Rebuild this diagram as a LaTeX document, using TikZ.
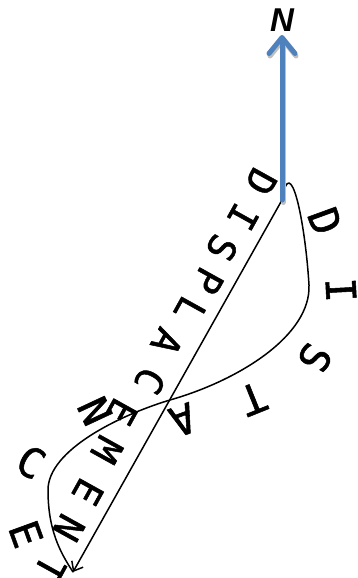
\documentclass[tikz,border=0pt]{standalone}
\usepackage{fontspec}
\newfontfamily\fontlettere[FakeBold=1.3]{DejaVu Sans Mono}
\newfontfamily\fontnord{Liberation Sans}
\usetikzlibrary{arrows.meta}
\definecolor{bluNord}{RGB}{79,129,189}

\begin{document}
\begin{tikzpicture}[x=1pt, y=-1pt, line cap=round, line join=round]

    % Stili delle lettere e dei vettori
    \tikzset{
        lettera/.style={font=\fontlettere\fontsize{38}{38}\selectfont, inner sep=0pt},
        letteraG/.style={font=\fontlettere\fontsize{41}{41}\selectfont, inner sep=0pt},
        vettore/.style={draw=black, line width=1.5pt, -{Straight Barb[length=8pt,width=13pt]}},
        nordfreccia/.style={line width=5pt, -{Straight Barb[length=16pt,width=26pt,round]}}
    }

    \useasboundingbox (0,0) rectangle (357,578);

    % Punti principali
    \coordinate (O) at (282,200);  % origine
    \coordinate (F) at (73,572);   % arrivo
    \coordinate (Nt) at (282,35);  % punta del nord

    % Spostamento (retta) e distanza (curva)
    \draw[vettore] (O) -- (F);
    \draw[line width=1.5pt] (O) .. controls (290,150) and (305,220) .. (309,285)
        .. controls (311,335) and (240,380) .. (170,400)
        .. controls (120,415) and (48,450) .. (48,490)
        .. controls (48,530) and (60,552) .. (F);

    % Freccia del nord, con ombra
    \draw[nordfreccia, black!25] ([shift={(1,2.5)}]O) -- ([shift={(1,2.5)}]Nt);
    \draw[nordfreccia, bluNord] (O) -- (Nt);
    \node[font=\fontnord\bfseries\itshape\fontsize{33}{33}\selectfont, inner sep=0pt] (nord) at (282,20) {N};

    % --- DISPLACEMENT lungo la retta ---
    \node[lettera, rotate=-119] (s1) at (261,182) {D};
    \node[lettera, rotate=-119] (s2) at (243,217) {I};
    \node[lettera, rotate=-119] (s3) at (222,248) {S};
    \node[lettera, rotate=-119] (s4) at (208,281) {P};
    \node[lettera, rotate=-119] (s5) at (190,310) {L};
    \node[lettera, rotate=-119] (s6) at (167,342) {A};
    \node[lettera, rotate=-119] (s7) at (150,381) {C};
    \node[lettera, rotate=-119] (s8) at (122,412) {E};
    \node[lettera, rotate=-119] (s9) at (107,450) {M};
    \node[lettera, rotate=-119] (s10) at (88,492) {E};
    \node[lettera, rotate=-119] (s11) at (69,528) {N};
    \node[lettera, rotate=-119] (s12) at (50,569) {T};

    % --- DISTANCE lungo la curva ---
    \node[letteraG, rotate=-70] (d1) at (325,221) {D};
    \node[letteraG, rotate=-87] (d2) at (341,290) {I};
    \node[letteraG, rotate=-120] (d3) at (315,358) {S};
    \node[letteraG, rotate=-158] (d4) at (253,399) {T};
    \node[letteraG, rotate=-160] (d5) at (183,420) {A};
    \node[letteraG, rotate=-65] (d6) at (95,411) {N};
    \node[letteraG, rotate=-30] (d7) at (31,462) {C};
    \node[letteraG, rotate=-70] (d8) at (26,534) {E};

\end{tikzpicture}
\end{document}
